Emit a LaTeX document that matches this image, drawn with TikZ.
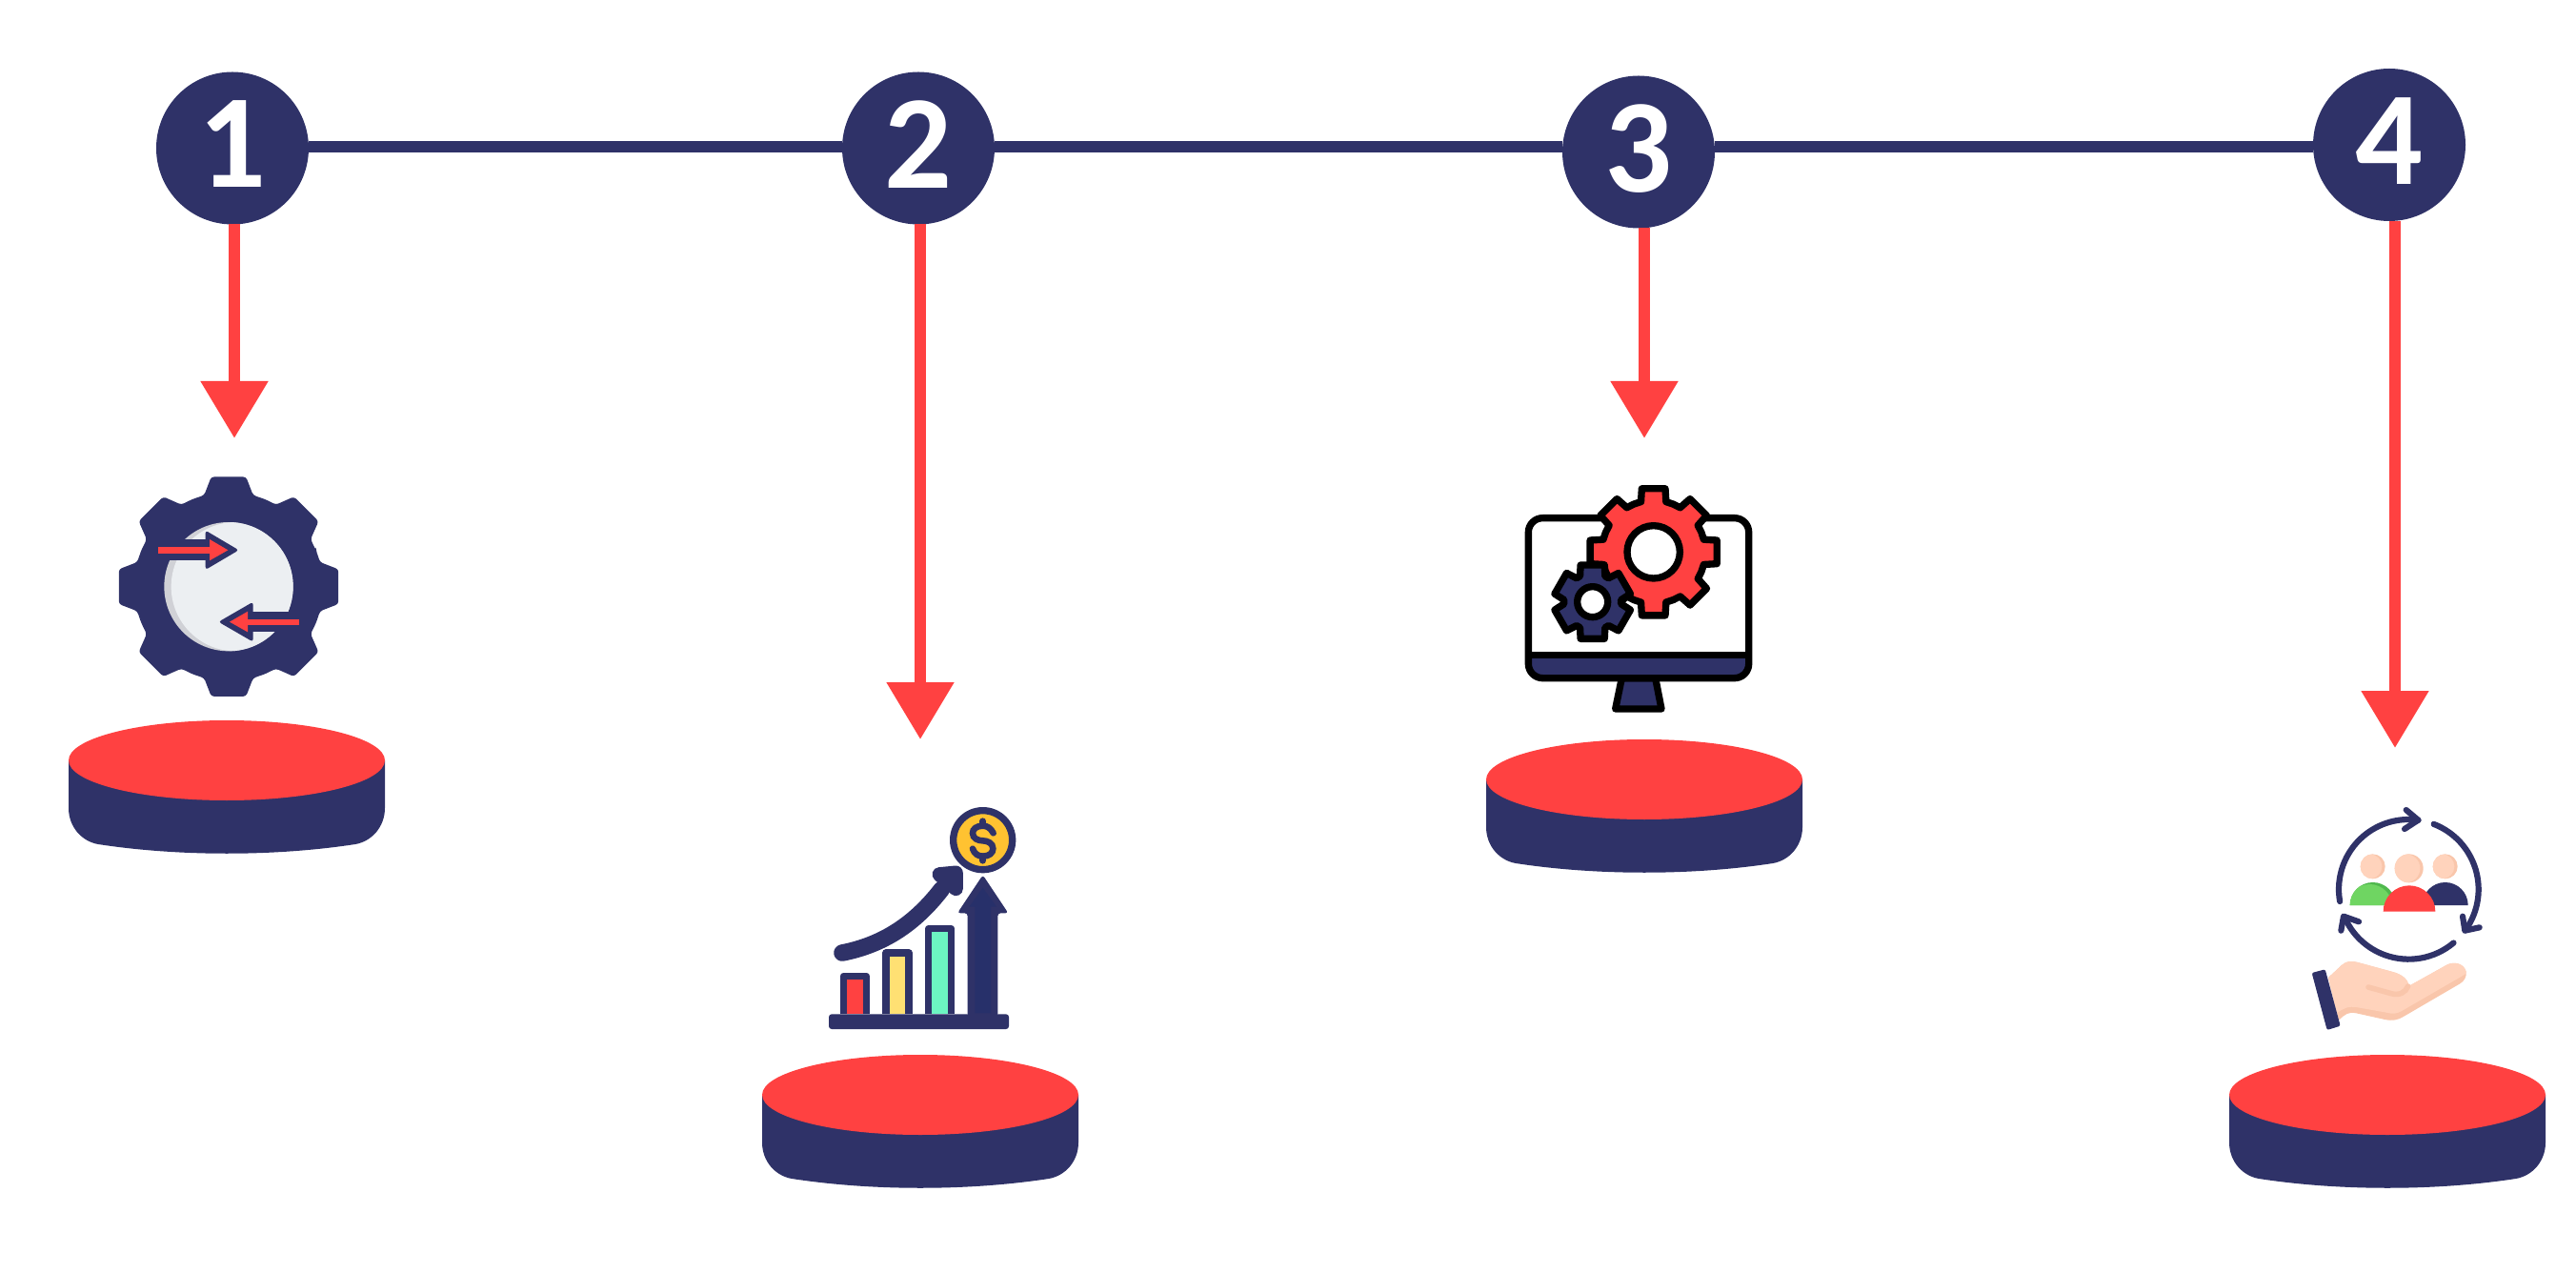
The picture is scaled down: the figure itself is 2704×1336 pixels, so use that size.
\documentclass[tikz,border=0pt]{standalone}
\usepackage{fontspec}
\setmainfont{Carlito}
\usetikzlibrary{arrows.meta}
\definecolor{darkblue}{HTML}{2F3268}
\definecolor{deepblue}{HTML}{27306A}
\definecolor{lightred}{HTML}{FF4141}
\definecolor{holegrey}{HTML}{ECEFF2}
\definecolor{shadegrey}{HTML}{D0D1D6}
\definecolor{coinyellow}{HTML}{FFC231}
\definecolor{baryellow}{HTML}{FFE073}
\definecolor{bargreen}{HTML}{6CF5C2}
\definecolor{skin}{HTML}{FFD3BC}
\definecolor{skinshade}{HTML}{F9C6AB}
\definecolor{headgreen}{HTML}{6FD562}
\definecolor{shadegreen}{HTML}{4FB84D}
\newcommand{\platedisk}[2]{
  \begin{scope}[shift={(#1,#2)}]
    \fill[darkblue] (-166,0) -- (-166,50) .. controls (-166,70) and (-152,85) .. (-135,88) .. controls (-50,101) and (50,101) .. (135,88) .. controls (152,85) and (166,70) .. (166,50) -- (166,0) -- cycle;
    \fill[lightred] (0,0) ellipse [x radius=166,y radius=42];
  \end{scope}
}
\begin{document}
\begin{tikzpicture}[x=0.5pt,y=-0.5pt]
        \tikzstyle{stepnode}=[circle,fill=darkblue,inner sep=0pt,outer sep=0pt,minimum size=80pt,text=white,font=\fontsize{70}{70}\selectfont\bfseries,text depth=4pt]
        \tikzstyle{timeline}=[draw=darkblue,line width=6pt]
        \tikzstyle{droparrow}=[draw=lightred,line width=6pt,-{Triangle[length=30pt,width=34pt,fill=lightred]}]
        \tikzstyle{zoomed}=[x=0.16667pt,y=-0.16667pt]
        \tikzstyle{iconline}=[draw=black,line width=3.67pt,line join=round]
        \tikzstyle{barline}=[draw=darkblue,line width=3.67pt,line join=round]
        \tikzstyle{cycleline}=[draw=darkblue,line width=3.1pt,line cap=round,line join=round]
        \useasboundingbox (0,0) rectangle (2704,1336);

        \node [stepnode] (n1) at (244,155.5) {1};
        \node [stepnode] (n2) at (964,155.5) {2};
        \node [stepnode] (n3) at (1720,159.5) {3};
        \node [stepnode] (n4) at (2508,152) {4};

        \coordinate (tip1) at (246,460);
        \coordinate (tip2) at (966,776);
        \coordinate (tip3) at (1726,460);
        \coordinate (tip4) at (2514,785);

        \draw[timeline] ([yshift=0.75pt]n1.east) -- ([yshift=0.75pt]n2.west);
        \draw[timeline] ([yshift=0.75pt]n2.east) -- ([yshift=2.75pt]n3.west);
        \draw[timeline] ([yshift=2.75pt]n3.east) -- ([yshift=-1pt]n4.west);

        \draw[droparrow] ([xshift=1pt]n1.south) -- (tip1);
        \draw[droparrow] ([xshift=1pt]n2.south) -- (tip2);
        \draw[droparrow] ([xshift=3pt]n3.south) -- (tip3);
        \draw[droparrow] ([xshift=3pt]n4.south) -- (tip4);

        \platedisk{238}{798}
        \platedisk{966}{1149}
        \platedisk{1726}{818}
        \platedisk{2506}{1149}

        \begin{scope}[shift={(100,480)},zoomed]
         \begin{scope}[shift={(420,407)}]
          \fill[darkblue,rounded corners=1.5pt] (-22.5:298) \foreach \a in {0,45,...,315} { -- (\a-15:298) -- (\a-9:350) -- (\a+9:350) -- (\a+15:298) -- (\a+22.5:298)} -- cycle;
          \fill[shadegrey] (0,0) circle [radius=203];
          \begin{scope}
           \clip (0,0) circle [radius=203];
           \fill[holegrey] (22,0) circle [radius=203];
          \end{scope}
         \end{scope}
         \fill[darkblue] (200,259) rectangle (350,325);
         \fill[darkblue,rounded corners=1.5pt] (347,230) -- (452,292) -- (347,354) -- cycle;
         \fill[lightred] (198,283) rectangle (362,302);
         \fill[lightred] (360,258) -- (418,292) -- (360,325) -- cycle;
         \fill[darkblue] (490,485) rectangle (612,550);
         \fill[darkblue,rounded corners=1.5pt] (497,455) -- (388,518) -- (497,581) -- cycle;
         \fill[lightred] (478,509) rectangle (642,528);
         \fill[lightred] (480,485) -- (423,518) -- (480,550) -- cycle;
        \end{scope}

        \begin{scope}[shift={(840,820)},zoomed]
         \fill[darkblue,rounded corners=1.5pt] (90,733) rectangle (657,780);
         \draw[barline,fill=lightred] (136,733) -- (136,613) -- (208,613) -- (208,733);
         \draw[barline,fill=baryellow] (270,733) -- (270,540) -- (342,540) -- (342,733);
         \draw[barline,fill=bargreen] (404,733) -- (404,464) -- (476,464) -- (476,733);
         \fill[darkblue,rounded corners=1.5pt] (527,740) -- (527,415) -- (495,415) -- (575,295) -- (655,415) -- (622,415) -- (622,740) -- cycle;
         \fill[deepblue] (550,730) -- (550,395) -- (532,395) -- (575,335) -- (618,395) -- (600,395) -- (600,730) -- cycle;
         \draw[darkblue,line width=8.8pt,line cap=round] (132,540) .. controls (260,515) and (360,450) .. (445,340);
         \draw[darkblue,fill=darkblue,line width=7.5pt,line join=round] (438,293) -- (490,288) -- (490,338) -- cycle;
         \draw[barline,fill=coinyellow] (575,185) circle [radius=93];
         \draw[darkblue,line width=3.3pt,line cap=round] (608,163) .. controls (600,147) and (588,140) .. (575,140) .. controls (555,140) and (543,150) .. (543,163) .. controls (543,180) and (560,187) .. (575,187) .. controls (590,187) and (607,195) .. (607,212) .. controls (607,225) and (595,236) .. (575,236) .. controls (560,236) and (548,228) .. (543,212);
         \draw[darkblue,line width=3.3pt,line cap=round] (575,125) -- (575,140);
         \draw[darkblue,line width=3.3pt,line cap=round] (575,236) -- (575,250);
        \end{scope}

        \begin{scope}[shift={(1580,490)},zoomed]
         \draw[iconline,fill=darkblue] (367,665) -- (347,762) -- (492,762) -- (473,665) -- cycle;
         \fill[white,rounded corners=7.5pt] (73,161) rectangle (767,665);
         \fill[darkblue] (73,593) [rounded corners=7.5pt] -- (73,665) -- (767,665) [sharp corners] -- (767,593) -- cycle;
         \draw[iconline,rounded corners=7.5pt] (73,161) rectangle (767,665);
         \draw[iconline] (73,593) -- (767,593);
         \begin{scope}[shift={(467,268)}]
          \draw[iconline,fill=lightred] (-22.5:163) \foreach \a in {0,45,...,315} { -- (\a-14:163) -- (\a-10.5:203) -- (\a+10.5:203) -- (\a+14:163) -- (\a+22.5:163)} -- cycle;
          \draw[iconline,fill=white] (0,0) circle [radius=83];
         \end{scope}
         \begin{scope}[shift={(275,425)}]
          \draw[iconline,fill=darkblue] (0:90) \foreach \a in {30,90,...,330} { -- (\a-26:90) -- (\a-18:122) -- (\a+18:122) -- (\a+26:90) -- (\a+30:90)} -- cycle;
          \draw[iconline,fill=white] (0,0) circle [radius=48];
         \end{scope}
        \end{scope}

        \begin{scope}[shift={(2400,820)},zoomed]
         \draw[cycleline] ([shift={(170:220)}]385,340) arc [start angle=170,end angle=278,radius=220];
         \draw[cycleline] (377,90) -- (415,122) -- (372,150);
         \draw[cycleline] ([shift={(-69:220)}]385,340) arc [start angle=-69,end angle=36,radius=220];
         \draw[cycleline] (555,425) -- (562,470) -- (608,460);
         \draw[cycleline] ([shift={(50:220)}]385,340) arc [start angle=50,end angle=157,radius=220];
         \draw[cycleline] (172,470) -- (180,425) -- (228,442);
         \foreach \hx/\hy/\hr in {272/268/39,386/274/45,500/268/39} {
          \fill[skinshade] (\hx,\hy) circle [radius=\hr];
          \begin{scope}
           \clip (\hx,\hy) circle [radius=\hr];
           \fill[skin] (\hx-10,\hy) circle [radius=\hr];
          \end{scope}
         }
         \fill[shadegreen] (200,390) arc [start angle=180,end angle=360,radius=72] -- cycle;
         \begin{scope}
          \clip (200,390) arc [start angle=180,end angle=360,radius=72] -- cycle;
          \fill[headgreen] (262,396) circle [radius=72];
         \end{scope}
         \fill[darkblue] (428,390) arc [start angle=180,end angle=360,radius=72] -- cycle;
         \fill[lightred] (305,410) arc [start angle=180,end angle=360,radius=82] -- cycle;
         \fill[skinshade] (132,618) -- (175,578) .. controls (190,565) and (205,565) .. (225,570) -- (335,600) .. controls (365,608) and (385,625) .. (385,645) -- (505,578) .. controls (530,565) and (560,575) .. (566,600) .. controls (568,615) and (560,630) .. (545,638) -- (370,740) .. controls (350,752) and (335,755) .. (310,750) -- (220,730) .. controls (195,725) and (185,733) .. (165,752) -- cycle;
         \fill[skin] (132,618) -- (175,578) .. controls (190,565) and (205,565) .. (225,570) -- (335,600) .. controls (365,608) and (385,625) .. (385,645) -- (505,578) .. controls (530,565) and (560,575) .. (566,600) .. controls (566,605) and (562,608) .. (555,612) -- (365,722) .. controls (345,733) and (335,733) .. (315,728) -- (225,712) .. controls (195,706) and (180,715) .. (158,730) -- cycle;
         \draw[skinshade,line width=2.8pt,line cap=round] (258,648) -- (330,668) .. controls (355,675) and (375,665) .. (383,645);
         \fill[darkblue,rounded corners=1pt] (80,603) -- (122,592) -- (170,770) -- (128,783) -- cycle;
        \end{scope}
\end{tikzpicture}
\end{document}
